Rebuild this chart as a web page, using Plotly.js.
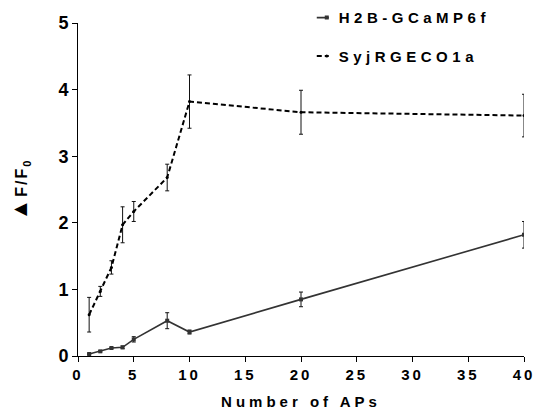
<!DOCTYPE html>
<html>
<head>
<meta charset="utf-8">
<script src="https://cdn.plot.ly/plotly-3.0.1.min.js"></script>
<style>
  html, body { margin: 0; padding: 0; background: #fff; }
  #chart { width: 534px; height: 414px; }
  /* wide tracking on the text, as in the printed figure */
  .xtick text { letter-spacing: 3px; }
  .legendtext { letter-spacing: 4.5px; }
  .g-xtitle text { letter-spacing: 4px; }
  .g-ytitle text { letter-spacing: 2px; }
</style>
</head>
<body>
<div id="chart"></div>
<script>
// Number of action potentials in the stimulus train
const aps = [1, 2, 3, 4, 5, 8, 10, 20, 40];

// Nuclear GCaMP6f response (mean and error)
const h2bName = "H2B-GCaMP6f";
const h2bMean = [0.03, 0.07, 0.12, 0.13, 0.25, 0.53, 0.36, 0.85, 1.82];
const h2bErr  = [0.01, 0.01, 0.01, 0.02, 0.04, 0.12, 0.03, 0.11, 0.20];

// Synaptic jRGECO1a response (mean and error)
const syjName = "SyjRGECO1a";
const syjMean = [0.62, 0.97, 1.33, 1.97, 2.17, 2.68, 3.82, 3.66, 3.61];
const syjErr  = [0.26, 0.075, 0.10, 0.27, 0.15, 0.20, 0.40, 0.33, 0.32];

// Axis ticks
const xTicks = [0, 5, 10, 15, 20, 25, 30, 35, 40];
const yTicks = [0, 1, 2, 3, 4, 5];

const FONT = "Liberation Sans, Arial, Helvetica, sans-serif";

const traces = [
  {
    x: aps, y: h2bMean, name: h2bName, legendgroup: "a",
    type: "scatter", mode: "lines+markers",
    line: { color: "#333333", width: 1.6 },
    marker: { color: "#333333", size: 4, symbol: "square" },
    error_y: { type: "data", array: h2bErr, visible: true, color: "#111", thickness: 1, width: 2 }
  },
  {
    x: aps, y: syjMean, name: syjName, legendgroup: "b",
    type: "scatter", mode: "lines+markers",
    line: { color: "#000000", width: 2, dash: "5px,3px" },
    marker: { color: "#000000", size: 3 },
    error_y: { type: "data", array: syjErr, visible: true, color: "#111", thickness: 1, width: 2 }
  }
];

const layout = {
  width: 534, height: 414,
  // fixed margins: the key sits in the top margin without pushing the plot down
  margin: { l: 78, r: 10, t: 23, b: 58, autoexpand: false },
  paper_bgcolor: "#ffffff", plot_bgcolor: "#ffffff",
  font: { family: FONT, color: "#000" },
  showlegend: true,
  legend: {
    x: 0.495, xanchor: "left", y: 1.065, yanchor: "top",
    traceorder: "grouped", tracegroupgap: 16,
    font: { family: FONT, size: 15, color: "#000", weight: "bold" },
    bgcolor: "rgba(0,0,0,0)"
  },
  xaxis: {
    range: [0, 40], tickvals: xTicks, ticktext: xTicks.map(String),
    showline: true, linecolor: "#000", linewidth: 1,
    ticks: "outside", ticklen: 5, tickcolor: "#000", tickwidth: 1,
    showgrid: false, zeroline: false, ticklabeloverflow: "allow",
    tickfont: { family: FONT, size: 15, color: "#000", weight: "bold" },
    title: { text: "Number of APs", font: { family: FONT, size: 15, color: "#000", weight: "bold" }, standoff: 14 }
  },
  yaxis: {
    range: [0, 5], tickvals: yTicks, ticktext: yTicks.map(String),
    showline: true, linecolor: "#000", linewidth: 1,
    ticks: "outside", ticklen: 5, tickcolor: "#000", tickwidth: 1,
    showgrid: false, zeroline: false, ticklabeloverflow: "allow",
    tickfont: { family: FONT, size: 18, color: "#000", weight: "bold" },
    title: {
      text: "<span style='font-size:22px'>▲</span>F/F<sub>0</sub>",
      font: { family: FONT, size: 16, color: "#000", weight: "bold" },
      standoff: 26
    }
  }
};

// Short legend swatches, as in the figure's key
function shortenSwatches() {
  document.querySelectorAll("#chart .legendlines path").forEach(p => {
    p.setAttribute("d", "M18,0h12");
  });
  document.querySelectorAll("#chart .legendpoints path").forEach(p => {
    p.setAttribute("transform", "translate(28,0)");
  });
}

Plotly.newPlot("chart", traces, layout, { staticPlot: true, displayModeBar: false })
  .then(gd => {
    shortenSwatches();
    gd.on("plotly_afterplot", shortenSwatches);
  });
</script>
</body>
</html>
